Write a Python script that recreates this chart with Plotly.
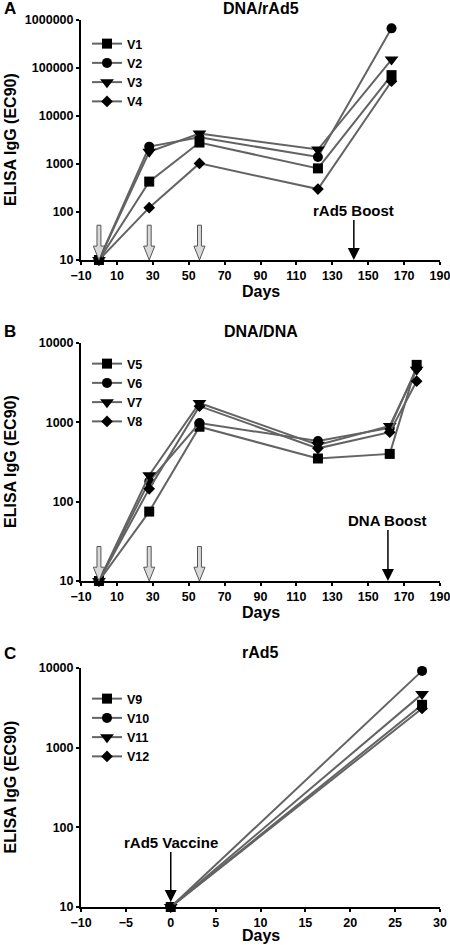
import plotly.graph_objects as go

# ---------------- data ----------------
days_A = [0, 28, 56, 122, 163]
V1 = [10, 430, 2800, 810, 71000]
V2 = [10, 2300, 3600, 1400, 670000]
V3 = [10, 1800, 4300, 2000, 150000]
V4 = [10, 123, 1030, 300, 53000]

days_B = [0, 28, 56, 122, 162, 177]
V5 = [10, 75, 880, 350, 400, 5300]
V6 = [10, 180, 980, 580, 850, 4900]
V7 = [10, 215, 1750, 520, 900, 4600]
V8 = [10, 145, 1600, 470, 750, 3300]

days_C = [0, 28]
V9 = [10, 3450]
V10 = [10, 9200]
V11 = [10, 4700]
V12 = [10, 3100]

prime_days = [0, 28, 56]
boost_day_A = 142
boost_day_B = 161
vaccine_day_C = 0

ytick_A = [10, 100, 1000, 10000, 100000, 1000000]
ytick_B = [10, 100, 1000, 10000]
ytick_C = [10, 100, 1000, 10000]
ylab_A = ["10", "100", "1000", "10000", "100000", "1000000"]
ylab_B = ["10", "100", "1000", "10000"]
ylab_C = ["10", "100", "1000", "10000"]

titles = ["DNA/rAd5", "DNA/DNA", "rAd5"]
letters = ["A", "B", "C"]

# ---------------- layout helpers ----------------
W, H = 450, 945
FONT = "Liberation Sans, Arial, sans-serif"
LINE = "#636363"
symbols = ["square", "circle", "triangle-down", "diamond"]
msizes = [10, 10, 12, 9]


def ydom(top, bottom):
    return [1 - bottom / H, 1 - top / H]


XDOM = [81 / W, 440 / W]
panels = [
    dict(top=20, bottom=260, title_y=8, legend_top=29, days_off=31),
    dict(top=343, bottom=581, title_y=331, legend_top=349, days_off=31),
    dict(top=668, bottom=907, title_y=652, legend_top=684, days_off=28),
]

fig = go.Figure()

series = [
    (days_A, [("V1", V1), ("V2", V2), ("V3", V3), ("V4", V4)], "x", "y", "legend"),
    (days_B, [("V5", V5), ("V6", V6), ("V7", V7), ("V8", V8)], "x2", "y2", "legend2"),
    (days_C, [("V9", V9), ("V10", V10), ("V11", V11), ("V12", V12)], "x3", "y3", "legend3"),
]

for days, group, xa, ya, lg in series:
    for i, (name, vals) in enumerate(group):
        fig.add_trace(go.Scatter(
            x=days, y=vals, name=name, mode="lines+markers",
            xaxis=xa, yaxis=ya, legend=lg, cliponaxis=False,
            line=dict(color=LINE, width=2),
            marker=dict(symbol=symbols[i], size=msizes[i], color="black",
                        line=dict(width=0)),
        ))

axis_common = dict(showline=True, linewidth=2, linecolor="black", ticks="outside",
                   ticklen=3, tickwidth=2, tickcolor="black", showgrid=False,
                   zeroline=False, automargin=False, ticklabeloverflow="allow",
                   tickfont=dict(size=12.5, color="black", family=FONT, weight="bold"))

layout = dict(
    width=W, height=H, margin=dict(l=0, r=0, t=0, b=0),
    template="none", plot_bgcolor="white", paper_bgcolor="white",
    font=dict(family=FONT, color="black", weight="bold"),
    showlegend=True,
)

xranges = [[-10, 190], [-10, 190], [-10, 30]]
xdticks = [20, 20, 5]
yranges = [[1, 6], [1, 4], [1, 4]]
yticks = [(ytick_A, ylab_A), (ytick_B, ylab_B), (ytick_C, ylab_C)]

annotations = []
shapes = []
for k, p in enumerate(panels):
    sx = "" if k == 0 else str(k + 1)
    layout["xaxis" + sx] = dict(axis_common, domain=XDOM, range=xranges[k], tick0=-10,
                                dtick=xdticks[k], anchor="y" + sx, ticklabelstandoff=0)
    layout["yaxis" + sx] = dict(axis_common, domain=ydom(p["top"], p["bottom"]), type="log",
                                range=yranges[k], tickvals=yticks[k][0],
                                ticktext=yticks[k][1], anchor="x" + sx)
    lgname = "legend" + sx
    layout[lgname] = dict(x=87 / W, y=1 - p["legend_top"] / H, xanchor="left", yanchor="top",
                          bgcolor="rgba(0,0,0,0)", borderwidth=0,
                          font=dict(size=12.5, family=FONT, color="black", weight="bold"),
                          itemwidth=30, tracegroupgap=0)
    # title
    annotations.append(dict(text=titles[k], x=(XDOM[0] + XDOM[1]) / 2, y=1 - p["title_y"] / H,
                            xref="paper", yref="paper", showarrow=False, xanchor="center",
                            yanchor="middle", font=dict(size=16, family=FONT, weight="bold")))
    annotations.append(dict(text=letters[k], x=2 / W, y=1 - (p["title_y"] + 1) / H,
                            xref="paper", yref="paper", showarrow=False, xanchor="left",
                            yanchor="middle", font=dict(size=17, family=FONT, weight="bold")))
    # y title
    annotations.append(dict(text="ELISA IgG (EC90)", x=10 / W,
                            y=1 - (p["top"] + p["bottom"]) / 2 / H,
                            xref="paper", yref="paper", showarrow=False, textangle=-90,
                            xanchor="center", yanchor="middle",
                            font=dict(size=16, family=FONT, weight="bold")))
    # x title
    annotations.append(dict(text="Days", x=(XDOM[0] + XDOM[1]) / 2,
                            y=1 - (p["bottom"] + p["days_off"]) / H, xref="paper", yref="paper",
                            showarrow=False, xanchor="center", yanchor="middle",
                            font=dict(size=16, family=FONT, weight="bold")))

# hollow grey prime arrows (panels A and B)
for sx in ["", "2"]:
    for d in prime_days:
        hw, HW, yt, yh = 1.1, 3.1, 0.145, 0.058
        path = (f"M {d-hw},{yt} L {d+hw},{yt} L {d+hw},{yh} L {d+HW},{yh} L {d},0 "
                f"L {d-HW},{yh} L {d-hw},{yh} Z")
        shapes.append(dict(type="path", path=path, xref="x" + sx, yref="y" + sx + " domain",
                           fillcolor="#d9d9d9", line=dict(color="#555555", width=1),
                           layer="above"))

# black boost arrows
boosts = [("rAd5 Boost", boost_day_A, "x", "y domain", -50, 0),
          ("DNA Boost", boost_day_B, "x2", "y2 domain", -61, 0),
          ("rAd5 Vaccine", vaccine_day_C, "x3", "y3 domain", -65, 5)]
for text, d, xr, yr, ay, so in boosts:
    annotations.append(dict(text=text, x=d, y=0, xref=xr, yref=yr, showarrow=True,
                            ax=0, ay=ay, arrowhead=2, arrowsize=1.6, arrowwidth=1.5,
                            arrowcolor="black", standoff=so,
                            font=dict(size=15, family=FONT, weight="bold")))

layout["annotations"] = annotations
layout["shapes"] = shapes
fig.update_layout(**layout)
fig.write_html("out.html", config={"displayModeBar": False},
               post_script="document.body.style.margin='0';")
